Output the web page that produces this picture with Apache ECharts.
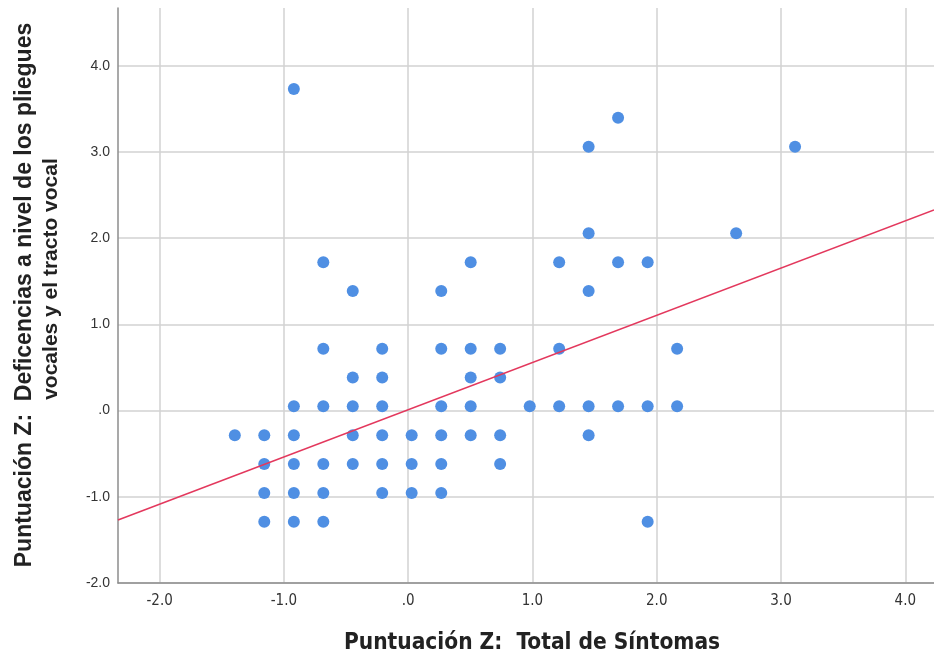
<!DOCTYPE html>
<html>
<head>
<meta charset="utf-8">
<script src="https://cdn.jsdelivr.net/npm/echarts@6/dist/echarts.min.js"></script>
<style>
html,body{margin:0;padding:0;background:#fff;}
#chart{width:934px;height:655px;}
</style>
</head>
<body>
<div id="chart"></div>
<script>
// Points (Z scores)
const xValues = [
  -0.920,
  1.689,
  1.452, 3.113,
  1.452, 2.639,
  -0.683, 0.503, 1.215, 1.689, 1.927,
  -0.446, 0.266, 1.452,
  -0.683, -0.209, 0.266, 0.503, 0.740, 1.215, 2.164,
  -0.446, -0.209, 0.503, 0.740,
  -0.920, -0.683, -0.446, -0.209, 0.266, 0.503, 0.978, 1.215, 1.452, 1.689, 1.927, 2.164,
  -1.395, -1.158, -0.920, -0.446, -0.209, 0.028, 0.266, 0.503, 0.740, 1.452,
  -1.158, -0.920, -0.683, -0.446, -0.209, 0.028, 0.266, 0.740,
  -1.158, -0.920, -0.683, -0.209, 0.028, 0.266,
  -1.158, -0.920, -0.683, 1.927
];
const yValues = [
  3.731,
  3.396,
  3.061, 3.061,
  2.057, 2.057,
  1.722, 1.722, 1.722, 1.722, 1.722,
  1.388, 1.388, 1.388,
  0.718, 0.718, 0.718, 0.718, 0.718, 0.718, 0.718,
  0.383, 0.383, 0.383, 0.383,
  0.049, 0.049, 0.049, 0.049, 0.049, 0.049, 0.049, 0.049, 0.049, 0.049, 0.049, 0.049,
  -0.286, -0.286, -0.286, -0.286, -0.286, -0.286, -0.286, -0.286, -0.286, -0.286,
  -0.620, -0.620, -0.620, -0.620, -0.620, -0.620, -0.620, -0.620,
  -0.955, -0.955, -0.955, -0.955, -0.955, -0.955,
  -1.290, -1.290, -1.290, -1.290
];
// Fit line endpoints
const fitX = [-2.335, 4.231];
const fitY = [-1.27, 2.328];
// Ticks
const xTicks = [-2, -1, 0, 1, 2, 3, 4];
const yTicks = [-2, -1, 0, 1, 2, 3, 4];
const xTitle = 'Puntuación Z:  Total de Síntomas';
const yTitleLine1 = 'Puntuación Z:  Deficencias a nivel de los pliegues';
const yTitleLine2 = 'vocales y el tracto vocal';

const fmt = v => (Math.abs(v) < 1e-9 ? '.0' : v.toFixed(1));
const points = xValues.map((x, i) => [x, yValues[i]]);
const fitLine = fitX.map((x, i) => [x, fitY[i]]);

const chart = echarts.init(document.getElementById('chart'), null, {renderer: 'canvas'});
chart.setOption({
  animation: false,
  backgroundColor: '#ffffff',
  grid: {left: 118, right: 0, top: 8, bottom: 72, containLabel: false},
  xAxis: {
    type: 'value', min: -2.335, max: 4.231,
    axisLine: {show: true, onZero: false, lineStyle: {color: '#8c8c8c', width: 1.5}},
    axisTick: {show: false, customValues: xTicks},
    axisLabel: {customValues: xTicks, formatter: fmt, margin: 11, color: '#333',
      fontFamily: "'DejaVu Sans Condensed',sans-serif", fontSize: 15},
    splitLine: {show: true, lineStyle: {color: '#d2d2d2', width: 1.5}}
  },
  yAxis: {
    type: 'value', min: -2, max: 4.67,
    axisLine: {show: true, onZero: false, lineStyle: {color: '#8c8c8c', width: 1.5}},
    axisTick: {show: false, customValues: yTicks},
    axisLabel: {customValues: yTicks, formatter: fmt, margin: 8, color: '#333',
      fontFamily: "'Liberation Sans',Arial,sans-serif", fontSize: 14},
    splitLine: {show: true, lineStyle: {color: '#d2d2d2', width: 1.5}}
  },
  series: [
    {
      type: 'line', data: fitLine, showSymbol: false, symbol: 'none',
      lineStyle: {color: '#e3385d', width: 1.5}, z: 3, silent: true
    },
    {
      type: 'scatter', data: points, symbolSize: 12,
      itemStyle: {color: '#4f8fe3', opacity: 1}, z: 2
    }
  ],
  graphic: [
    {
      type: 'text', x: 532, y: 643,
      style: {text: xTitle, fill: '#222', align: 'center', verticalAlign: 'middle',
        font: "bold 22.5px 'DejaVu Sans Condensed',sans-serif"}
    },
    {
      type: 'text', x: 24.5, y: 295, rotation: Math.PI / 2,
      style: {text: yTitleLine1, fill: '#222', align: 'center', verticalAlign: 'middle',
        font: "bold 23px 'Liberation Sans',Arial,sans-serif"}
    },
    {
      type: 'text', x: 51.5, y: 279, rotation: Math.PI / 2,
      style: {text: yTitleLine2, fill: '#222', align: 'center', verticalAlign: 'middle',
        font: "bold 21px 'Liberation Sans',Arial,sans-serif"}
    }
  ]
});
</script>
</body>
</html>
